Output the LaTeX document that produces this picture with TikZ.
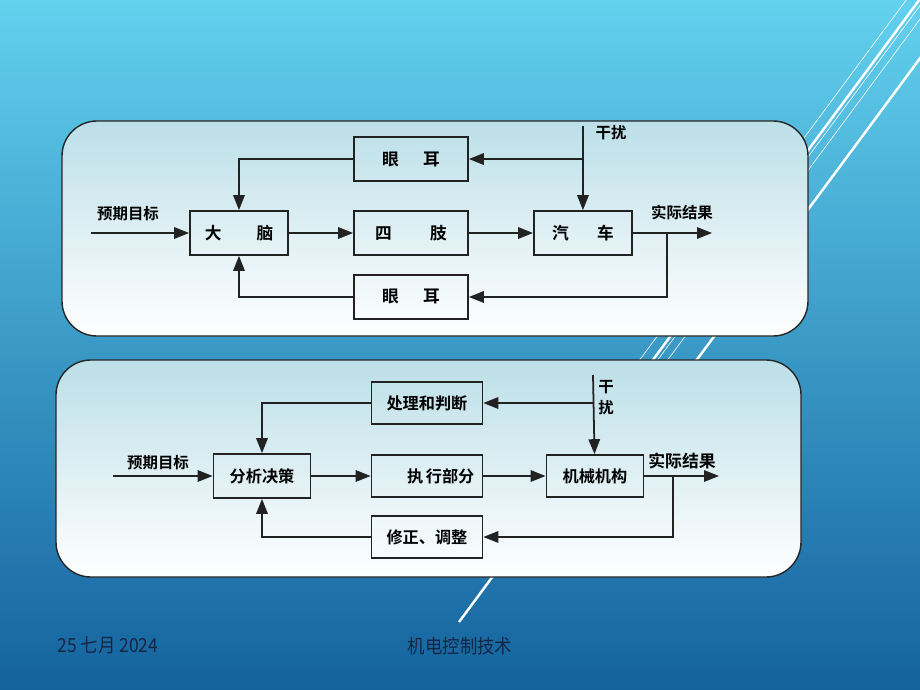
\documentclass[tikz,border=0pt]{standalone}
\usepackage{fontspec}
\newfontfamily\cjk{Noto Sans CJK SC}[BoldFont={Noto Sans CJK SC Bold}]
\usepackage{tikz}
\usetikzlibrary{positioning}
\usetikzlibrary{arrows.meta}
\usetikzlibrary{calc}
\definecolor{ink}{RGB}{34,34,34}
\definecolor{skytop}{RGB}{98,209,238}
\definecolor{skymid}{RGB}{62,164,208}
\definecolor{skybot}{RGB}{20,98,158}
\definecolor{paneltop}{RGB}{188,223,232}
\definecolor{footink}{RGB}{20,38,68}
\tikzset{blk/.style={draw=ink, line width=1pt, minimum height=0.88cm, inner sep=0pt, font=\cjk\bfseries\fontsize{9.5}{11}\selectfont},
blk2/.style={blk, minimum height=0.84cm, font=\cjk\bfseries\fontsize{9.2}{11}\selectfont},
wire/.style={draw=ink, line width=1pt, -{Triangle[length=8.5pt,width=6.5pt]}},
lbl/.style={inner sep=0pt, font=\cjk\bfseries\fontsize{8.8}{12}\selectfont},
panel/.style={rounded corners=0.7cm, top color=paneltop, bottom color=white, draw=black!85, line width=0.8pt},
streak/.style={white, line width=1.4pt},
hair/.style={white, line width=0.35pt}}

\begin{document}
\begin{tikzpicture}[x=0.02cm, y=-0.02cm]
\clip (0,0) rectangle (920,690);
\shade[top color=skytop, middle color=skymid, bottom color=skybot] (0,0) rectangle (920,690);
\draw[hair] (921,-20) -- (610,400);
\draw[streak] (934,-20) -- (459,622);
\draw[hair] (939,-20) -- (628,400);
\draw[hair] (949,-20) -- (638,400);
\draw[streak] (978,-20) -- (667,400);
\shadedraw[panel] (62,121) rectangle (808,336);
\shadedraw[panel] (56,360) rectangle (801,577);

% upper loop
\node (brain1) [blk, minimum width=1.96cm] at (239,233) {大\hspace{2.1em}脑};
\node (limb1) [blk, right of=brain1, minimum width=2.28cm, node distance=3.44cm] {四\hspace{2.3em}肢};
\node (car1) [blk, right of=limb1, minimum width=1.96cm, node distance=3.44cm] {汽\hspace{1.7em}车};
\node (eye1) [blk, above of=limb1, minimum width=2.28cm, node distance=1.48cm] {眼\hspace{1.45em}耳};
\node (eye2) [blk, below of=limb1, minimum width=2.28cm, node distance=1.28cm] {眼\hspace{1.45em}耳};
\node (goal1) [lbl] at (128,214) {预期目标};
\node (res1) [lbl] at (682,213) {实际结果};
\node (dist1) [lbl] at (611,133) {干扰};
\coordinate (in1) at (91,233);
\coordinate (out1) at (712,233);
\coordinate (fb1) at (667,233);
\coordinate (d1) at (583,126);
\draw[wire] (in1) -- (brain1);
\draw[wire] (brain1) -- (limb1);
\draw[wire] (limb1) -- (car1);
\draw[wire] (car1) -- (out1);
\draw[wire] (d1) -- (car1);
\draw[wire] (d1 |- eye1.east) -- (eye1.east);
\draw[wire] (eye1.west) -| (brain1.north);
\draw[wire] (fb1) |- (eye2.east);
\draw[wire] (eye2.west) -| (brain1.south);

% lower loop
\node (dec2) [blk2, minimum width=1.94cm, minimum height=0.88cm] at (262,476) {分析决策};
\node (exe2) [blk2, right of=dec2, minimum width=2.22cm, node distance=3.3cm] {\hspace{1.7em}执\,行部分};
\node (mech2) [blk2, right of=exe2, minimum width=1.94cm, node distance=3.36cm] {机械机构};
\node (proc2) [blk2, above of=exe2, minimum width=2.22cm, node distance=1.46cm] {处理和判断};
\node (fix2) [blk2, below of=exe2, minimum width=2.22cm, node distance=1.22cm] {修正、调整};
\node (goal2) [lbl] at (158,463) {预期目标};
\node (res2) [lbl, font=\cjk\bfseries\fontsize{9.6}{12}\selectfont] at (682,461) {实际结果};
\node (dist2) [lbl, align=center] at (606,398) {干\\扰};
\coordinate (in2) at (113,476);
\coordinate (out2) at (719,476);
\coordinate (fb2) at (673,476);
\coordinate (d2) at (593,375);
\draw[wire] (in2) -- (dec2);
\draw[wire] (dec2) -- (exe2);
\draw[wire] (exe2) -- (mech2);
\draw[wire] (mech2) -- (out2);
\draw[wire] (d2) -- (mech2);
\draw[wire] (d2 |- proc2.east) -- (proc2.east);
\draw[wire] (proc2.west) -| (dec2.north);
\draw[wire] (fb2) |- (fix2.east);
\draw[wire] (fix2.west) -| (dec2.south);

% footer
\node (date) [text=footink, font=\cjk\fontsize{11}{13}\selectfont] at (108,645) {\scalebox{0.9}[1]{25 七月 2024}};
\node (title) [text=footink, font=\cjk\fontsize{11}{13}\selectfont] at (460,646) {\scalebox{0.9}[1]{机电控制技术}};
\end{tikzpicture}
\end{document}
